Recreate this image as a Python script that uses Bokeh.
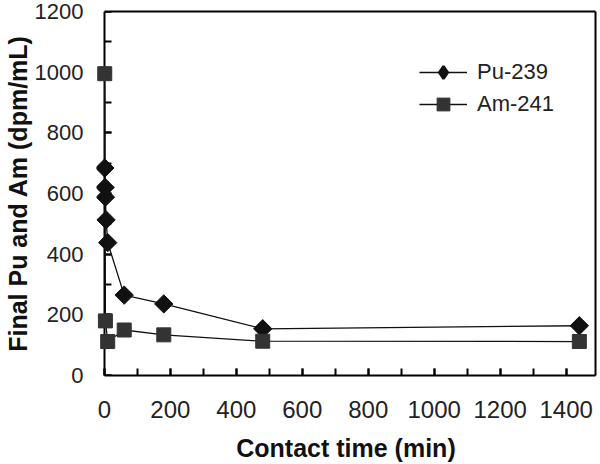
import numpy as np
from bokeh.plotting import figure
from bokeh.models import Range1d, FixedTicker, Legend, LegendItem, LinearAxis
from bokeh.embed import file_html
from bokeh.resources import INLINE

# Data
pu_time = [1, 2, 3, 5, 10, 60, 180, 480, 1440]
pu_conc = [684, 620, 588, 513, 438, 265, 236, 154, 164]
am_time = [1, 3, 10, 60, 180, 480, 1440]
am_conc = [995, 180, 112, 150, 134, 113, 112]

x_ticks = [0, 200, 400, 600, 800, 1000, 1200, 1400]
x_minor = list(range(0, 1500, 100))
y_ticks = [0, 200, 400, 600, 800, 1000, 1200]
y_minor = list(range(0, 1201, 100))
X_MAX = 1489
Y_MAX = 1200

FONT = "Liberation Sans"

p = figure(width=598, height=465, output_backend="svg", toolbar_location=None,
           x_range=Range1d(-24, X_MAX), y_range=Range1d(0, Y_MAX),
           min_border_left=95, min_border_right=3, min_border_top=11, min_border_bottom=90)

p.xgrid.visible = False
p.ygrid.visible = False
p.outline_line_color = None
p.background_fill_color = "white"
p.border_fill_color = "white"

# bottom axis
xa = p.xaxis[0]
xa.ticker = FixedTicker(ticks=x_ticks, minor_ticks=x_minor)
xa.bounds = (0, X_MAX)
xa.axis_line_width = 2
xa.axis_line_color = "black"
xa.major_tick_in = 7
xa.major_tick_out = 0
xa.minor_tick_in = 7
xa.minor_tick_out = 0
xa.major_tick_line_width = 2
xa.minor_tick_line_width = 2
xa.major_tick_line_color = "black"
xa.minor_tick_line_color = "black"
xa.major_label_text_font = FONT
xa.major_label_text_color = "#222222"
xa.major_label_text_font_size = "24px"
xa.major_label_standoff = 25
xa.axis_label = "Contact time (min)"
xa.axis_label_text_font = FONT
xa.axis_label_text_font_style = "bold"
xa.axis_label_text_color = "#111111"
xa.axis_label_text_font_size = "25px"
xa.axis_label_standoff = 13

# left axis: labels and title only (line and ticks drawn by the axis at x = 0)
ya = p.yaxis[0]
ya.ticker = FixedTicker(ticks=y_ticks, minor_ticks=y_minor)
ya.axis_line_color = None
ya.major_tick_line_color = None
ya.minor_tick_line_color = None
ya.major_tick_in = 0
ya.major_tick_out = 0
ya.minor_tick_in = 0
ya.minor_tick_out = 0
ya.major_label_text_font = FONT
ya.major_label_text_color = "#222222"
ya.major_label_text_font_size = "22px"
ya.major_label_standoff = 13
ya.axis_label = "Final Pu and Am (dpm/mL)"
ya.axis_label_text_font = FONT
ya.axis_label_text_font_style = "bold"
ya.axis_label_text_color = "#111111"
ya.axis_label_text_font_size = "25px"
ya.axis_label_standoff = 0

# y axis line with inward ticks at x = 0
y0_ax = LinearAxis(ticker=FixedTicker(ticks=y_ticks, minor_ticks=y_minor),
                   fixed_location=0, level="underlay",
                   axis_line_width=2, axis_line_color="black",
                   major_tick_in=7, major_tick_out=0, minor_tick_in=7, minor_tick_out=0,
                   major_tick_line_width=2, minor_tick_line_width=2,
                   major_tick_line_color="black", minor_tick_line_color="black",
                   major_label_text_color=None, major_label_standoff=0,
                   axis_label_standoff=0)
p.add_layout(y0_ax, "left")

# plain frame lines on top and right
top_ax = LinearAxis(ticker=FixedTicker(ticks=[]), bounds=(0, X_MAX),
                    axis_line_width=2, axis_line_color="black",
                    major_tick_out=0, minor_tick_out=0, major_tick_in=0, minor_tick_in=0,
                    major_label_standoff=0, axis_label_standoff=0,
                    major_label_text_color=None)
right_ax = LinearAxis(ticker=FixedTicker(ticks=[]),
                      axis_line_width=2, axis_line_color="black",
                      major_tick_out=0, minor_tick_out=0, major_tick_in=0, minor_tick_in=0,
                      major_label_standoff=0, axis_label_standoff=0,
                      major_label_text_color=None)
p.add_layout(top_ax, "above")
p.add_layout(right_ax, "right")

pu_line = p.line(pu_time, pu_conc, line_color="#111111", line_width=1.3)
pu_pts = p.scatter(pu_time, pu_conc, marker="square", size=13, angle=np.pi / 4,
                   fill_color="#111111", line_color="#111111")
am_line = p.line(am_time, am_conc, line_color="#111111", line_width=1.3)
am_pts = p.scatter(am_time, am_conc, marker="square", size=14,
                   fill_color="#333333", line_color="#333333")
# legend-only diamond key (a single NaN point, nothing is drawn in the plot)
pu_key = p.scatter([np.nan], [np.nan], marker="diamond", size=12, line_width=2.5,
                   fill_color="#111111", line_color="#111111")

legend = Legend(items=[LegendItem(label="Pu-239", renderers=[pu_line, pu_key]),
                       LegendItem(label="Am-241", renderers=[am_line, am_pts])],
                location=(323, 255), padding=0, margin=0, spacing=-2,
                glyph_width=48, glyph_height=32, label_height=32,
                label_standoff=10, label_text_font=FONT, label_text_font_size="22px",
                label_text_color="#222222", border_line_color=None,
                background_fill_alpha=0)
p.add_layout(legend, "center")

open("out.html", "w").write(file_html(p, INLINE))
